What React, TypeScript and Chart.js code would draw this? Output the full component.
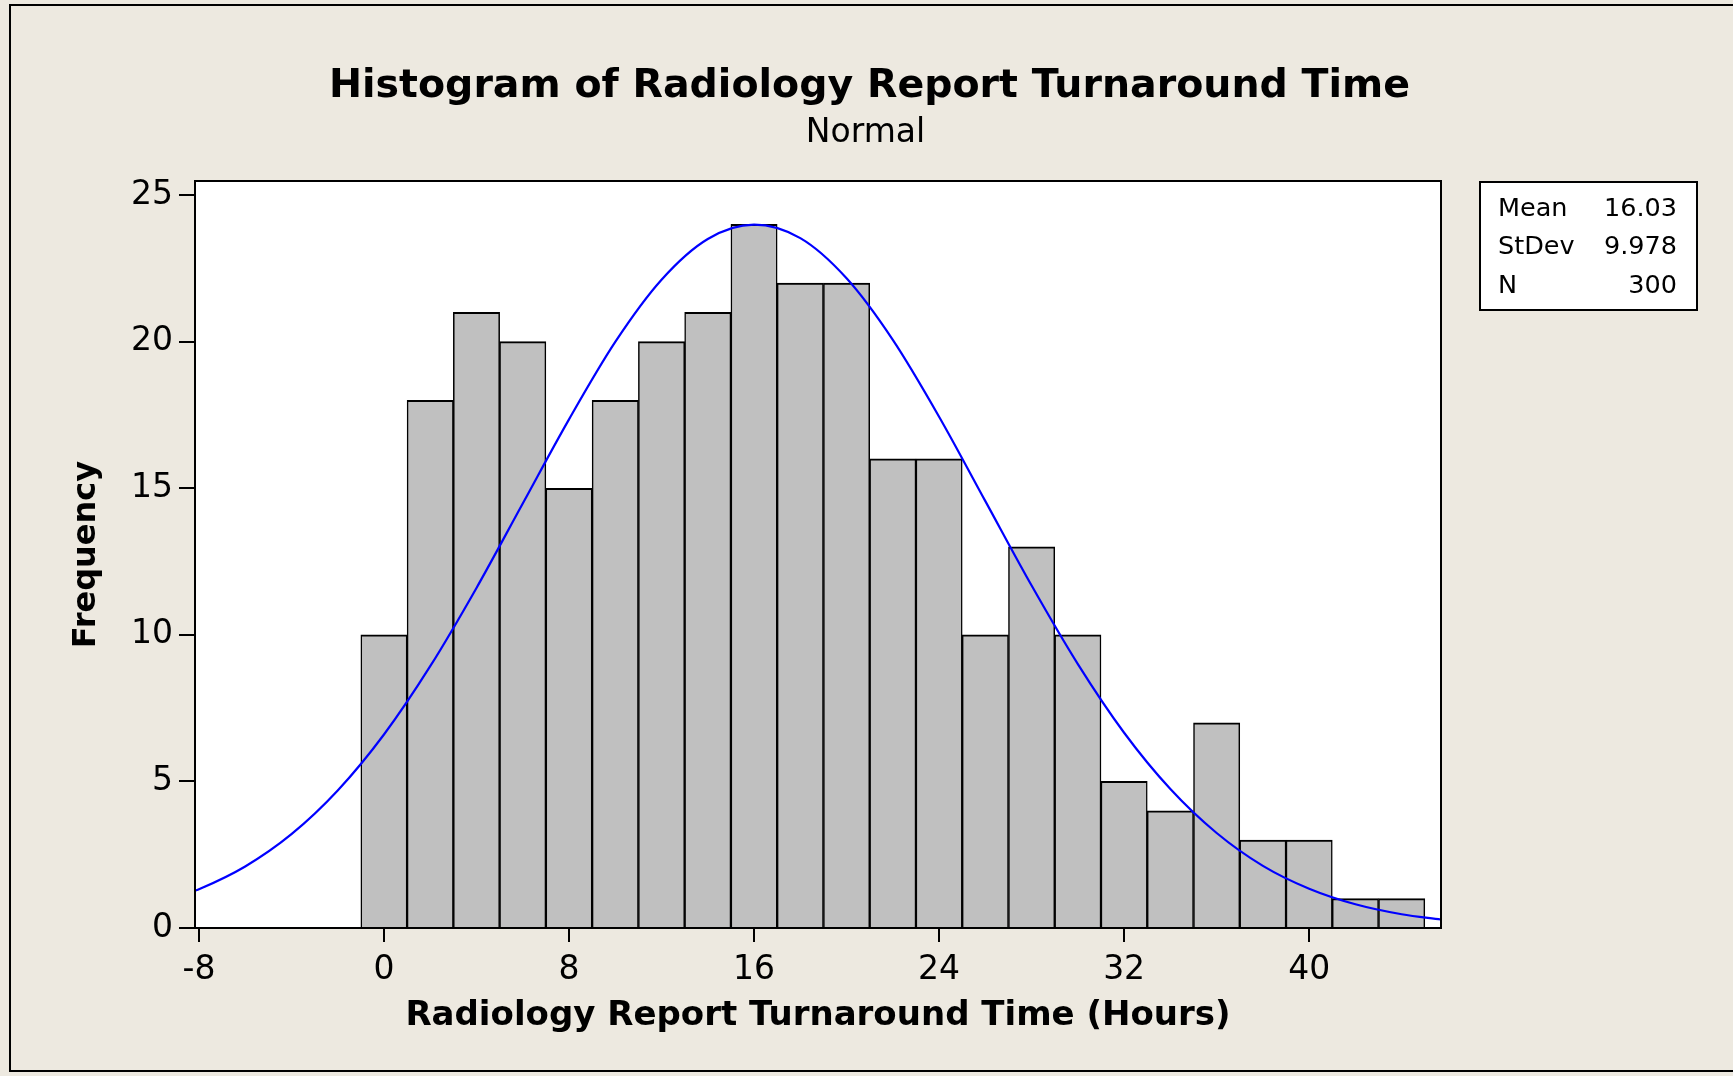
import React, { useEffect, useRef } from 'react';
import { Chart, registerables } from 'chart.js';

Chart.register(...registerables);

// ---- Data ----
const binCenters = [0, 2, 4, 6, 8, 10, 12, 14, 16, 18, 20, 22, 24, 26, 28, 30, 32, 34, 36, 38, 40, 42, 44];
const frequencies = [10, 18, 21, 20, 15, 18, 20, 21, 24, 22, 22, 16, 16, 10, 13, 10, 5, 4, 7, 3, 3, 1, 1];

const curveX = [-8.17, -8, -6, -4, -2, 0, 2, 4, 6, 8, 10, 12, 14, 16, 18, 20, 22, 24, 26, 28, 30, 32, 34, 36, 38, 40, 42, 44, 45.7];
const curveY = [1.27, 1.32, 2.1, 3.2, 4.69, 6.6, 8.93, 11.6, 14.48, 17.35, 19.99, 22.11, 23.5, 23.99, 23.53, 22.16, 20.06, 17.44, 14.56, 11.68, 9.0, 6.66, 4.74, 3.24, 2.12, 1.34, 0.81, 0.47, 0.29];

const xMin = -8.17;
const xMax = 45.7;
const xStep = 8;
const yMin = 0;
const yMax = 25.48;
const yStep = 5;

const statLabels = ['Mean', 'StDev', 'N'];
const statValues = ['16.03', '9.978', '300'];

const chartTitle = 'Histogram of Radiology Report Turnaround Time';
const chartSubtitle = 'Normal';
const xAxisTitle = 'Radiology Report Turnaround Time (Hours)';
const yAxisTitle = 'Frequency';

// ---- Styles ----
const FONT = "'DejaVu Sans', sans-serif";
const BG = '#EDE9E0';
const BAR_FILL = '#C0C0C0';
const CURVE = '#0000FF';

const decorPlugin = {
  id: 'decor',
  beforeDraw(chart: any) {
    const { ctx, width, height, chartArea: a } = chart;
    ctx.save();
    ctx.fillStyle = BG;
    ctx.fillRect(0, 0, width, height);
    ctx.strokeStyle = '#000';
    ctx.lineWidth = 2;
    ctx.strokeRect(10, 5, width + 20, height - 10);
    ctx.fillStyle = '#fff';
    ctx.fillRect(a.left, a.top, a.right - a.left, a.bottom - a.top);
    ctx.restore();
  },
  afterDraw(chart: any) {
    const { ctx, width, chartArea: a } = chart;
    ctx.save();
    // plot frame
    ctx.strokeStyle = '#000';
    ctx.lineWidth = 2;
    ctx.strokeRect(Math.round(a.left), Math.round(a.top), Math.round(a.right - a.left), Math.round(a.bottom - a.top));

    // titles
    ctx.fillStyle = '#000';
    ctx.textAlign = 'center';
    ctx.textBaseline = 'alphabetic';
    ctx.font = `bold 39.5px ${FONT}`;
    ctx.fillText(chartTitle, width / 2 + 3, 97);
    ctx.font = `33px ${FONT}`;
    ctx.fillText(chartSubtitle, width / 2 - 1, 142);

    // stats box
    const bx = Math.round(a.right) + 39;
    const by = Math.round(a.top) + 1;
    const bw = 217;
    const bh = 128;
    ctx.fillStyle = '#fff';
    ctx.fillRect(bx, by, bw, bh);
    ctx.strokeStyle = '#000';
    ctx.lineWidth = 2;
    ctx.strokeRect(bx, by, bw, bh);
    ctx.fillStyle = '#000';
    ctx.font = `25.5px ${FONT}`;
    statLabels.forEach((lab, i) => {
      const y = by + 34 + i * 38.3;
      ctx.textAlign = 'left';
      ctx.fillText(lab, bx + 18, y);
      ctx.textAlign = 'right';
      ctx.fillText(statValues[i], bx + bw - 20, y);
    });
    ctx.restore();
  },
};

export default function App() {
  const ref = useRef<HTMLCanvasElement | null>(null);

  useEffect(() => {
    document.body.style.margin = '0';
    document.body.style.overflow = 'hidden';
    const canvas = ref.current;
    if (!canvas) return;

    const chart = new Chart(canvas, {
      type: 'bar',
      data: {
        datasets: [
          {
            type: 'line',
            label: 'Normal fit',
            data: curveX.map((x, i) => ({ x, y: curveY[i] })),
            borderColor: CURVE,
            borderWidth: 2.2,
            pointRadius: 0,
            fill: false,
            cubicInterpolationMode: 'monotone',
            order: 0,
          } as any,
          {
            type: 'bar',
            label: 'Frequency',
            data: binCenters.map((x, i) => ({ x, y: frequencies[i] })),
            backgroundColor: BAR_FILL,
            borderColor: '#000',
            borderWidth: { top: 2, left: 1.5, right: 1.5, bottom: 0 },
            borderSkipped: 'start',
            barPercentage: 1,
            categoryPercentage: 1,
            order: 1,
          } as any,
        ],
      },
      options: {
        responsive: false,
        devicePixelRatio: 1,
        animation: false,
        layout: { padding: { top: 181, right: 292, left: 0, bottom: 0 } },
        plugins: {
          legend: { display: false },
          tooltip: { enabled: false },
        },
        scales: {
          x: {
            type: 'linear',
            min: xMin,
            max: xMax,
            offset: false,
            ticks: {
              stepSize: xStep,
              includeBounds: false,
              color: '#000',
              font: { size: 33, family: FONT },
              padding: 9,
              maxRotation: 0,
              autoSkip: false,
            },
            grid: {
              display: true,
              offset: false,
              drawOnChartArea: false,
              drawTicks: true,
              tickLength: 14,
              color: '#000',
              lineWidth: 2,
            },
            border: { display: true, color: '#000', width: 2 },
            title: {
              display: true,
              text: xAxisTitle,
              color: '#000',
              font: { size: 34, weight: 'bold', family: FONT },
              padding: { top: 0, bottom: 39 },
            },
            afterFit(scale: any) {
              scale.height = 148;
            },
          },
          y: {
            type: 'linear',
            min: yMin,
            max: yMax,
            ticks: {
              stepSize: yStep,
              includeBounds: false,
              color: '#000',
              font: { size: 33, family: FONT },
              padding: 6,
            },
            grid: {
              display: true,
              offset: false,
              drawOnChartArea: false,
              drawTicks: true,
              tickLength: 16,
              color: '#000',
              lineWidth: 2,
            },
            border: { display: true, color: '#000', width: 2 },
            title: {
              display: true,
              text: yAxisTitle,
              color: '#000',
              font: { size: 32, weight: 'bold', family: FONT },
              padding: { top: 67.8, bottom: 0 },
            },
            afterFit(scale: any) {
              scale.width = 195;
            },
          },
        },
      } as any,
      plugins: [decorPlugin],
    });

    return () => chart.destroy();
  }, []);

  return (
    <div style={{ width: 1733, height: 1076 }}>
      <canvas ref={ref} width={1733} height={1076} style={{ display: 'block' }} />
    </div>
  );
}
